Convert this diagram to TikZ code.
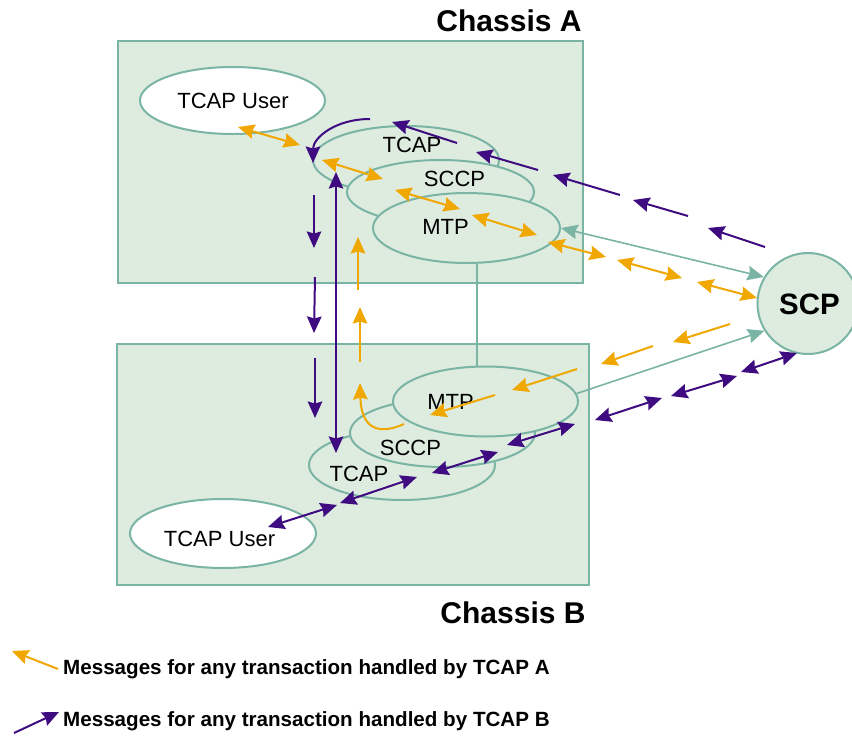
\documentclass[tikz,border=0pt]{standalone}
\usepackage{fontspec}
\setmainfont{Liberation Sans}
\usetikzlibrary{arrows.meta,shapes.geometric}
\definecolor{frame}{RGB}{122,180,165}
\definecolor{panel}{RGB}{222,235,223}
\definecolor{amber}{RGB}{240,168,0}
\definecolor{violet}{RGB}{62,12,128}
\begin{document}
\begin{tikzpicture}[x=1pt,y=-1pt,
  >={Stealth[length=16.5pt,width=14.5pt,inset=2pt]},
  chassis/.style={draw=frame,fill=panel,line width=2pt,inner sep=0pt},
  layer/.style={ellipse,draw=frame,fill=panel,line width=2pt,inner sep=0pt},
  user/.style={layer,fill=white},
  lbl/.style={font=\fontsize{22}{26}\selectfont,inner sep=0pt},
  title/.style={font=\fontsize{30}{34}\selectfont\bfseries,inner sep=0pt},
  note/.style={font=\fontsize{20.6}{24}\selectfont\bfseries,inner sep=0pt,anchor=base west},
  amb/.style={draw=amber,line width=2pt},
  vio/.style={draw=violet,line width=2pt},
  link/.style={draw=frame,line width=1.6pt},
]
\useasboundingbox (0,0) rectangle (852,737);

% the two chassis
\node[chassis,minimum width=465pt,minimum height=242pt] (chA) at (350.5,162) {};
\node[chassis,minimum width=472pt,minimum height=241pt] (chB) at (353,464.5) {};
\node[title] (ttlA) at (509,20.5) {Chassis A};
\node[title] (ttlB) at (513,613) {Chassis B};

% protocol stack of chassis A
\node[user,minimum width=185pt,minimum height=67pt] (userA) at (232.5,100.5) {};
\node[layer,minimum width=186pt,minimum height=68pt] (tcapA) at (406,160) {};
\node[layer,minimum width=187pt,minimum height=64pt] (sccpA) at (440.5,192) {};
\node[layer,minimum width=187pt,minimum height=70pt] (mtpA) at (466.5,228) {};

% protocol stack of chassis B
\node[layer,minimum width=186pt,minimum height=70pt] (tcapB) at (402,465) {};
\node[layer,minimum width=185pt,minimum height=68pt] (sccpB) at (442.5,433) {};
\node[layer,minimum width=185pt,minimum height=70pt] (mtpB) at (485.5,401.5) {};
\node[user,minimum width=186pt,minimum height=69pt] (userB) at (223,533.5) {};

% the SCP
\node[circle,draw=frame,fill=panel,line width=2pt,minimum size=101pt,inner sep=0pt] (scp) at (808,303.5) {};

% layer names
\node[lbl] (tUserA) at (233,101) {TCAP User};
\node[lbl] (tTcapA) at (412,145) {TCAP};
\node[lbl] (tSccpA) at (454.5,179) {SCCP};
\node[lbl] (tMtpA) at (445.5,227) {MTP};
\node[lbl] (tMtpB) at (450.5,401.5) {MTP};
\node[lbl] (tSccpB) at (410.5,448) {SCCP};
\node[lbl] (tTcapB) at (359,474) {TCAP};
\node[lbl] (tUserB) at (219.5,538.5) {TCAP User};
\node[title,font=\fontsize{29.5}{33}\selectfont\bfseries] (tScp) at (809.5,304) {SCP};

% links between the MTP layers and to the SCP
\coordinate (tie) at (477,0);
\draw[link] (tie |- mtpA.south) -- (tie |- mtpB.north);
\draw[link,<->] (mtpA.east) -- (scp.149);
\draw[link,->] (mtpB.5) -- (scp.212);

% traffic for transactions held by TCAP A
\foreach \n/\ax/\ay/\bx/\by in {
  1/238/127/300/145, 2/322/160/383/179, 3/395/190/460/209,
  4/472/215/537/235, 5/548/242/606/257, 6/617/260/682/278,
  7/697/282/757/298}{
  \coordinate (oa\n) at (\ax,\ay);
  \coordinate (ob\n) at (\bx,\by);
  \draw[amb,<->] (oa\n) -- (ob\n);
}
\foreach \n/\ax/\ay/\bx/\by in {
  1/358/290/358/237, 2/360/362/360/307,
  3/730/324/673/342, 4/653/346/601/364,
  5/577/369/512/390, 6/495/395/430/415}{
  \coordinate (os\n) at (\ax,\ay);
  \coordinate (oe\n) at (\bx,\by);
  \draw[amb,->] (os\n) -- (oe\n);
}
\coordinate (ocs) at (404,424);
\coordinate (oce) at (360,383);
\draw[amb,->] (ocs) .. controls (375,437) and (361,425) .. (oce);

% traffic for transactions held by TCAP B
\foreach \n/\ax/\ay/\bx/\by in {
  1/765/247/708/228, 2/688/216/633/200, 3/620/195/553/175,
  4/538/170/476/152, 5/457/143/392/122,
  6/314/195/314/248, 7/315/277/314/333, 8/315/358/315/418}{
  \coordinate (ps\n) at (\ax,\ay);
  \coordinate (pe\n) at (\bx,\by);
  \draw[vio,->] (ps\n) -- (pe\n);
}
\coordinate (pcs) at (370,119);
\coordinate (pce) at (313,163);
\draw[vio,->] (pcs) .. controls (335,119) and (313,138) .. (pce);
\coordinate (pls) at (336,453);
\coordinate (ple) at (336,172);
\draw[vio,<->] (pls) -- (ple);
\foreach \n/\ax/\ay/\bx/\by in {
  1/268/527/337/505, 2/340/503/417/477, 3/432/473/498/452,
  4/507/445/575/424, 5/595/420/662/398, 6/671/396/737/376,
  7/741/372/797/353}{
  \coordinate (pa\n) at (\ax,\ay);
  \coordinate (pb\n) at (\bx,\by);
  \draw[vio,<->] (pa\n) -- (pb\n);
}

% legend
\coordinate (la1) at (58,669);
\coordinate (la2) at (12,651);
\draw[amb,->] (la1) -- (la2);
\node[note] (legA) at (63,674) {Messages for any transaction handled by TCAP A};
\coordinate (lb1) at (14,733);
\coordinate (lb2) at (59,712);
\draw[vio,->] (lb1) -- (lb2);
\node[note] (legB) at (63,726) {Messages for any transaction handled by TCAP B};
\end{tikzpicture}
\end{document}
